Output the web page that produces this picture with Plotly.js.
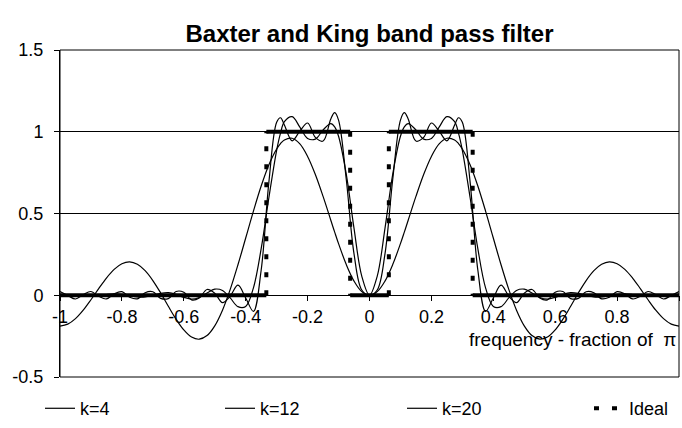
<!DOCTYPE html>
<html>
<head>
<meta charset="utf-8">
<script src="https://cdn.plot.ly/plotly-3.0.1.min.js"></script>
<style>
html,body{margin:0;padding:0;background:#ffffff;}
#chart{width:682px;height:428px;}
</style>
</head>
<body>
<div id="chart"></div>
<script>
// frequency (fraction of pi), non-negative half; the responses are symmetric about 0
const freq = [0, 0.025, 0.05, 0.075, 0.1, 0.1125, 0.125, 0.15, 0.175, 0.2, 0.225, 0.25, 0.275, 0.2875, 0.3,
  0.325, 0.35, 0.375, 0.4, 0.425, 0.45, 0.475, 0.5, 0.525, 0.55, 0.575, 0.6, 0.625, 0.65, 0.675, 0.7,
  0.725, 0.75, 0.775, 0.8, 0.825, 0.85, 0.875, 0.9, 0.925, 0.95, 0.975, 1];

const gainK4 = [0, 0.0222, 0.0867, 0.1876, 0.3156, 0.3862, 0.4590, 0.6045, 0.7387, 0.8492, 0.9255, 0.9603, 0.9499, 0.9277, 0.8945,
  0.7981, 0.6681, 0.5148, 0.3501, 0.1864, 0.0358, -0.0913, -0.1871, -0.2467, -0.2688, -0.2555, -0.2121, -0.1462, -0.0673, 0.0147, 0.0900,
  0.1504, 0.1895, 0.2039, 0.1927, 0.1583, 0.1054, 0.0408, -0.0275, -0.0914, -0.1432, -0.1769, -0.1886];

const gainK12 = [0, 0.1168, 0.4095, 0.7401, 0.9727, 1.0301, 1.0494, 1.0111, 0.9550, 0.9593, 1.0281, 1.0925, 1.0614, 0.9920, 0.8867,
  0.5980, 0.2851, 0.0455, -0.0684, -0.0697, -0.0165, 0.0295, 0.0373, 0.0137, -0.0140, -0.0237, -0.0126, 0.0058, 0.0157, 0.0114, -0.0008,
  -0.0101, -0.0100, -0.0024, 0.0057, 0.0083, 0.0044, -0.0020, -0.0062, -0.0056, -0.0011, 0.0038, 0.0060];

const gainK20 = [0, 0.0322, 0.2532, 0.7079, 1.0710, 1.1164, 1.0786, 0.9430, 0.9657, 1.0536, 1.0041, 0.9445, 1.0410, 1.0855, 1.0575,
  0.6936, 0.1542, -0.0984, -0.0165, 0.0615, -0.0049, -0.0450, 0.0127, 0.0352, -0.0166, -0.0283, 0.0188, 0.0231, -0.0203, -0.0188, 0.0212,
  0.0152, -0.0219, -0.0119, 0.0223, 0.0091, -0.0227, -0.0064, 0.0228, 0.0037, -0.0230, -0.0012, 0.0225];

const idealFreq = [-1, -1/3, -1/3, -0.0625, -0.0625, 0.0625, 0.0625, 1/3, 1/3, 1];
const idealGain = [0, 0, 1, 1, 0, 0, 1, 1, 0, 0];

const seriesNames = ['k=4', 'k=12', 'k=20', 'Ideal'];

const xTickVals = [-1, -0.8, -0.6, -0.4, -0.2, 0, 0.2, 0.4, 0.6, 0.8, 1];
const xTickText = ['-1', '-0.8', '-0.6', '-0.4', '-0.2', '0', '0.2', '0.4', '0.6', '0.8', '1'];
const yTickVals = [-0.5, 0, 0.5, 1, 1.5];
const yTickText = ['-0.5', '0', '0.5', '1', '1.5'];

// build full symmetric series from the half arrays
function fullX(a) { return a.slice(1).map(v => -v).reverse().concat(a); }
function fullY(a) { return a.slice(1).reverse().concat(a); }

// split the ideal step into flat parts (solid) and jumps (dotted)
const flatX = [], flatY = [], jumpX = [], jumpY = [];
for (let i = 0; i < idealFreq.length - 1; i++) {
  if (idealGain[i] === idealGain[i + 1]) {
    flatX.push(idealFreq[i], idealFreq[i + 1], null);
    flatY.push(idealGain[i], idealGain[i + 1], null);
  } else {
    jumpX.push(idealFreq[i], idealFreq[i + 1], null);
    jumpY.push(idealGain[i], idealGain[i + 1], null);
  }
}

const FONT = 'Liberation Sans, Arial, sans-serif';
const curveLine = {color: '#000000', width: 1.2, shape: 'spline', smoothing: 1};

const traces = [
  {x: fullX(freq), y: fullY(gainK4), name: seriesNames[0], type: 'scatter', mode: 'lines', line: curveLine, legendwidth: 135},
  {x: fullX(freq), y: fullY(gainK12), name: seriesNames[1], type: 'scatter', mode: 'lines', line: curveLine, legendwidth: 137},
  {x: fullX(freq), y: fullY(gainK20), name: seriesNames[2], type: 'scatter', mode: 'lines', line: curveLine, legendwidth: 142},
  {x: flatX, y: flatY, name: 'Ideal flat', type: 'scatter', mode: 'lines', showlegend: false,
   line: {color: '#000000', width: 4}},
  {x: jumpX, y: jumpY, name: seriesNames[3], type: 'scatter', mode: 'lines', legendwidth: 42,
   line: {color: '#000000', width: 4, dash: '5px,13px'}}
];

const layout = {
  width: 682, height: 428,
  paper_bgcolor: '#ffffff', plot_bgcolor: '#ffffff',
  margin: {l: 60, r: 3, t: 50, b: 51, autoexpand: false},
  font: {family: FONT, size: 18, color: '#000000'},
  title: {text: '<b>Baxter and King band pass filter</b>', font: {family: FONT, size: 24, color: '#000000'},
          xref: 'container', x: 0.5418, xanchor: 'center', yref: 'container', y: 0.922, yanchor: 'middle'},
  showlegend: true,
  legend: {orientation: 'h', x: -0.0323, xanchor: 'left', y: -0.04, yanchor: 'top',
           font: {family: FONT, size: 18, color: '#000000'}, bgcolor: 'rgba(0,0,0,0)', borderwidth: 0,
           traceorder: 'normal'},
  xaxis: {
    range: [-1, 1], anchor: 'free', position: 0.25,
    tickmode: 'array', tickvals: xTickVals, ticktext: xTickText,
    ticks: 'outside', ticklen: 5, tickcolor: '#000000', tickwidth: 1,
    showline: true, linecolor: '#000000', linewidth: 1,
    showgrid: false, zeroline: false, ticklabelstandoff: 0,
    tickfont: {family: FONT, size: 18, color: '#000000'}
  },
  yaxis: {
    range: [-0.5, 1.5],
    tickmode: 'array', tickvals: yTickVals, ticktext: yTickText,
    ticks: 'outside', ticklen: 5, tickcolor: '#000000', tickwidth: 1,
    showline: true, linecolor: '#000000', linewidth: 1,
    showgrid: true, gridcolor: '#000000', gridwidth: 1, zeroline: false, ticklabelstandoff: 7,
    tickfont: {family: FONT, size: 18, color: '#000000'}
  },
  shapes: [
    {type: 'rect', xref: 'paper', yref: 'paper', x0: 0, x1: 1, y0: 0, y1: 1,
     line: {color: '#000000', width: 1}, fillcolor: 'rgba(0,0,0,0)', layer: 'above'}
  ],
  annotations: [
    {text: 'frequency - fraction of\u00a0 \u03c0', xref: 'paper', yref: 'paper', x: 1, y: 0.115,
     xanchor: 'right', yanchor: 'middle', xshift: -1, showarrow: false,
     font: {family: FONT, size: 19, color: '#000000'}}
  ]
};

Plotly.newPlot('chart', traces, layout, {staticPlot: true, displayModeBar: false});
</script>
</body>
</html>
